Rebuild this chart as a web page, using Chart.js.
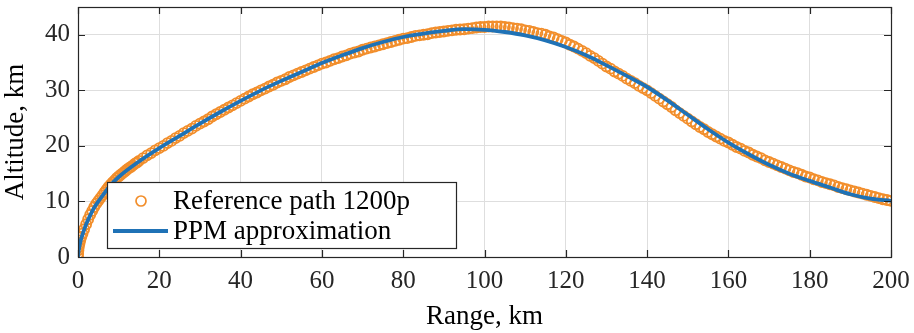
<!DOCTYPE html>
<html>
<head>
<meta charset="utf-8">
<script src="https://cdn.jsdelivr.net/npm/chart.js@4.4.1/dist/chart.umd.min.js"></script>
<style>
  html, body { margin: 0; padding: 0; background: #fff; }
  #wrap { width: 914px; height: 333px; }
</style>
</head>
<body>
<div id="wrap"><canvas id="pathChart" width="914" height="333"></canvas></div>
<script>
// PPM approximation (blue line), km
const ppmRange = [0, 0.1, 0.3, 0.6, 1, 1.5, 2, 3, 4, 5, 6, 8, 10, 15, 20, 25, 30, 35, 40, 45,
    50, 55, 60, 65, 70, 75, 80, 85, 90, 95, 100, 105, 110, 115, 120, 125, 130, 135, 140, 145,
    150, 155, 160, 165, 170, 175, 180, 185, 190, 195, 200];
const ppmAltitude = [0, 0.8, 1.7, 2.8, 3.8, 4.9, 5.9, 7.5, 8.9, 10.0, 11.0, 12.9, 14.4, 17.2, 19.6, 21.8, 24.0, 26.1, 28.1, 30.0,
    31.7, 33.3, 34.9, 36.3, 37.6, 38.7, 39.6, 40.2, 40.7, 41.0, 40.9, 40.5, 39.9, 39.0, 37.8, 36.3, 34.5, 32.6, 30.6, 28.2,
    25.6, 23.0, 20.6, 18.5, 16.6, 15.0, 13.7, 12.5, 11.3, 10.5, 10.1];

// Reference path (orange circles), km
const refRange = [0, 0.03, 0.1, 0.2, 0.35, 0.55, 0.8, 1.1, 1.5, 2,
    2.5, 3, 3.5, 4, 4.5, 5, 5.5, 6, 6.5, 7,
    7.5, 8, 8.5, 9, 9.5, 10, 10.5, 11, 11.5, 12,
    12.5, 13, 13.5, 14, 14.5, 15,
    16, 17, 18, 19, 20, 21, 22, 23, 24, 25, 26, 27, 28, 29,
    30, 31, 32, 33, 34, 35, 36, 37, 38, 39, 40, 41, 42, 43, 44, 45, 46, 47, 48, 49,
    50, 51, 52, 53, 54, 55, 56, 57, 58, 59, 60, 61, 62, 63, 64, 65, 66, 67, 68, 69,
    70, 71, 72, 73, 74, 75, 76, 77, 78, 79, 80, 81, 82, 83, 84, 85, 86, 87, 88, 89,
    90, 91, 92, 93, 94, 95, 96, 97, 98, 99, 100, 101, 102, 103, 104, 105, 106, 107, 108, 109,
    110, 111, 112, 113, 114, 115, 116, 117, 118, 119, 120, 121, 122, 123, 124, 125, 126, 127, 128, 129,
    130, 131, 132, 133, 134, 135, 136, 137, 138, 139, 140, 141, 142, 143, 144, 145, 146, 147, 148, 149,
    150, 151, 152, 153, 154, 155, 156, 157, 158, 159, 160, 161, 162, 163, 164, 165, 166, 167, 168, 169,
    170, 171, 172, 173, 174, 175, 176, 177, 178, 179, 180, 181, 182, 183, 184, 185, 186, 187, 188, 189,
    190, 191, 192, 193, 194, 195, 196, 197, 198, 199, 200];
const refAltitude = [0, 0.6, 1.2, 1.8, 2.4, 3.0, 3.6, 4.2, 5.0, 5.9,
    6.8, 7.6, 8.3, 9.0, 9.6, 10.1, 10.6, 11.1, 11.6, 12.1,
    12.6, 13.0, 13.4, 13.8, 14.2, 14.5, 14.8, 15.1, 15.4, 15.7,
    16.0, 16.2, 16.5, 16.8, 17.0, 17.3,
    17.8, 18.3, 18.7, 19.2, 19.6, 20.0, 20.5, 20.9, 21.4, 21.8, 22.3, 22.7, 23.1, 23.6,
    24.0, 24.4, 24.8, 25.3, 25.7, 26.1, 26.5, 26.9, 27.3, 27.7, 28.1, 28.5, 28.9, 29.3, 29.6, 30.0, 30.3, 30.7, 31.0, 31.4,
    31.7, 32.0, 32.4, 32.7, 33.0, 33.3, 33.6, 33.9, 34.2, 34.5, 34.8, 35.0, 35.3, 35.6, 35.8, 36.1, 36.3, 36.6, 36.8, 37.0,
    37.3, 37.5, 37.7, 37.9, 38.1, 38.3, 38.5, 38.7, 38.9, 39.1, 39.3, 39.4, 39.6, 39.8, 39.9, 40.0, 40.1, 40.3, 40.4, 40.5,
    40.6, 40.7, 40.8, 40.9, 40.95, 41.0, 41.1, 41.2, 41.3, 41.4, 41.4, 41.5, 41.5, 41.5, 41.5, 41.4, 41.3, 41.2, 41.1, 41.0,
    40.8, 40.7, 40.5, 40.3, 40.2, 40.0, 39.7, 39.5, 39.2, 38.9, 38.6, 38.2, 37.9, 37.5, 37.1, 36.7, 36.2, 35.8, 35.3, 34.8,
    34.3, 33.9, 33.4, 33.0, 32.6, 32.1, 31.7, 31.3, 30.8, 30.4, 30.0, 29.5, 29.0, 28.5, 28.0, 27.5, 27.0, 26.4, 25.9, 25.4,
    24.9, 24.4, 23.9, 23.4, 23.0, 22.5, 22.1, 21.7, 21.3, 20.9, 20.6, 20.2, 19.8, 19.5, 19.1, 18.8, 18.4, 18.1, 17.8, 17.4,
    17.1, 16.8, 16.5, 16.2, 15.9, 15.6, 15.3, 15.1, 14.8, 14.5, 14.3, 14.0, 13.8, 13.5, 13.3, 13.1, 12.9, 12.6, 12.4, 12.2,
    12.0, 11.8, 11.6, 11.4, 11.2, 11.0, 10.8, 10.6, 10.4, 10.25, 10.1];

const xTicks = [0, 20, 40, 60, 80, 100, 120, 140, 160, 180, 200];
const yTicks = [0, 10, 20, 30, 40];
const seriesLabels = ['Reference path 1200p', 'PPM approximation'];

const ORANGE = '#F28E2B';
const BLUE = '#1F72B6';
const AXIS = '#262626';
const FONT = "'Liberation Serif', 'Times New Roman', serif";

// box, inward ticks and in-plot legend, drawn like the original figure
const axesBoxPlugin = {
    id: 'axesBox',
    afterDatasetsDraw(chart) {
        const { ctx, chartArea: a, scales } = chart;
        const tickLen = 7;
        ctx.save();
        ctx.strokeStyle = AXIS;
        ctx.lineWidth = 1.2;
        ctx.strokeRect(a.left + 0.5, a.top + 0.5, a.right - a.left, a.bottom - a.top);
        ctx.beginPath();
        xTicks.forEach(v => {
            const px = Math.round(scales.x.getPixelForValue(v)) + 0.5;
            ctx.moveTo(px, a.bottom); ctx.lineTo(px, a.bottom - tickLen);
            ctx.moveTo(px, a.top); ctx.lineTo(px, a.top + tickLen);
        });
        yTicks.forEach(v => {
            const py = Math.round(scales.y.getPixelForValue(v)) + 0.5;
            ctx.moveTo(a.left, py); ctx.lineTo(a.left + tickLen, py);
            ctx.moveTo(a.right, py); ctx.lineTo(a.right - tickLen, py);
        });
        ctx.stroke();

        // legend
        const lx = 107.5, ly = 182.5, lw = 349, lh = 66;
        ctx.fillStyle = '#fff';
        ctx.fillRect(lx, ly, lw, lh);
        ctx.lineWidth = 1.2;
        ctx.strokeStyle = AXIS;
        ctx.strokeRect(lx, ly, lw, lh);

        ctx.strokeStyle = ORANGE;
        ctx.lineWidth = 1.7;
        ctx.beginPath();
        ctx.arc(141, 201, 5, 0, Math.PI * 2);
        ctx.stroke();

        ctx.strokeStyle = BLUE;
        ctx.lineWidth = 3.8;
        ctx.beginPath();
        ctx.moveTo(113, 231); ctx.lineTo(168, 231);
        ctx.stroke();

        ctx.fillStyle = '#000';
        ctx.font = '27px ' + FONT;
        ctx.textBaseline = 'middle';
        ctx.textAlign = 'left';
        ctx.fillText(seriesLabels[0], 173, 202);
        ctx.fillText(seriesLabels[1], 173, 232);
        ctx.restore();
    }
};

const ctx = document.getElementById('pathChart');
new Chart(ctx.getContext('2d'), {
    type: 'scatter',
    data: {
        datasets: [{
            label: seriesLabels[1],
            data: ppmRange.map((x, i) => ({ x: x, y: ppmAltitude[i] })),
            showLine: true,
            borderColor: BLUE,
            borderWidth: 3.8,
            pointRadius: 0,
            cubicInterpolationMode: 'monotone',
            order: 0
        }, {
            label: seriesLabels[0],
            data: refRange.map((x, i) => ({ x: x, y: refAltitude[i] })),
            showLine: false,
            pointStyle: 'circle',
            pointRadius: 5,
            pointBorderWidth: 1.9,
            pointBorderColor: ORANGE,
            pointBackgroundColor: 'rgba(0,0,0,0)',
            order: 1
        }]
    },
    options: {
        responsive: false,
        animation: false,
        events: [],
        layout: { padding: { top: 7, right: 23, left: 0, bottom: 0 } },
        plugins: {
            legend: { display: false },
            tooltip: { enabled: false }
        },
        scales: {
            x: {
                type: 'linear',
                min: 0,
                max: 200,
                afterBuildTicks: scale => { scale.ticks = xTicks.map(v => ({ value: v })); },
                afterFit: scale => { scale.height = 76; scale.paddingLeft = 0; scale.paddingRight = 0; },
                grid: { color: '#DEDEDE', lineWidth: 1, drawTicks: false },
                border: { display: false },
                ticks: { color: AXIS, font: { family: FONT, size: 25 }, padding: 9, maxRotation: 0 },
                title: { display: true, text: 'Range, km', color: '#000', font: { family: FONT, size: 27 }, padding: { top: 0, bottom: 0 } }
            },
            y: {
                type: 'linear',
                min: 0,
                max: 45,
                afterBuildTicks: scale => { scale.ticks = yTicks.map(v => ({ value: v })); },
                afterFit: scale => { scale.width = 78; scale.paddingTop = 0; scale.paddingBottom = 0; },
                grid: { color: '#DEDEDE', lineWidth: 1, drawTicks: false },
                border: { display: false },
                ticks: { color: AXIS, font: { family: FONT, size: 25 }, padding: 8 },
                title: { display: true, text: 'Altitude, km', color: '#000', font: { family: FONT, size: 27 }, padding: { top: 0, bottom: 0 } }
            }
        }
    },
    plugins: [axesBoxPlugin]
});
</script>
</body>
</html>
